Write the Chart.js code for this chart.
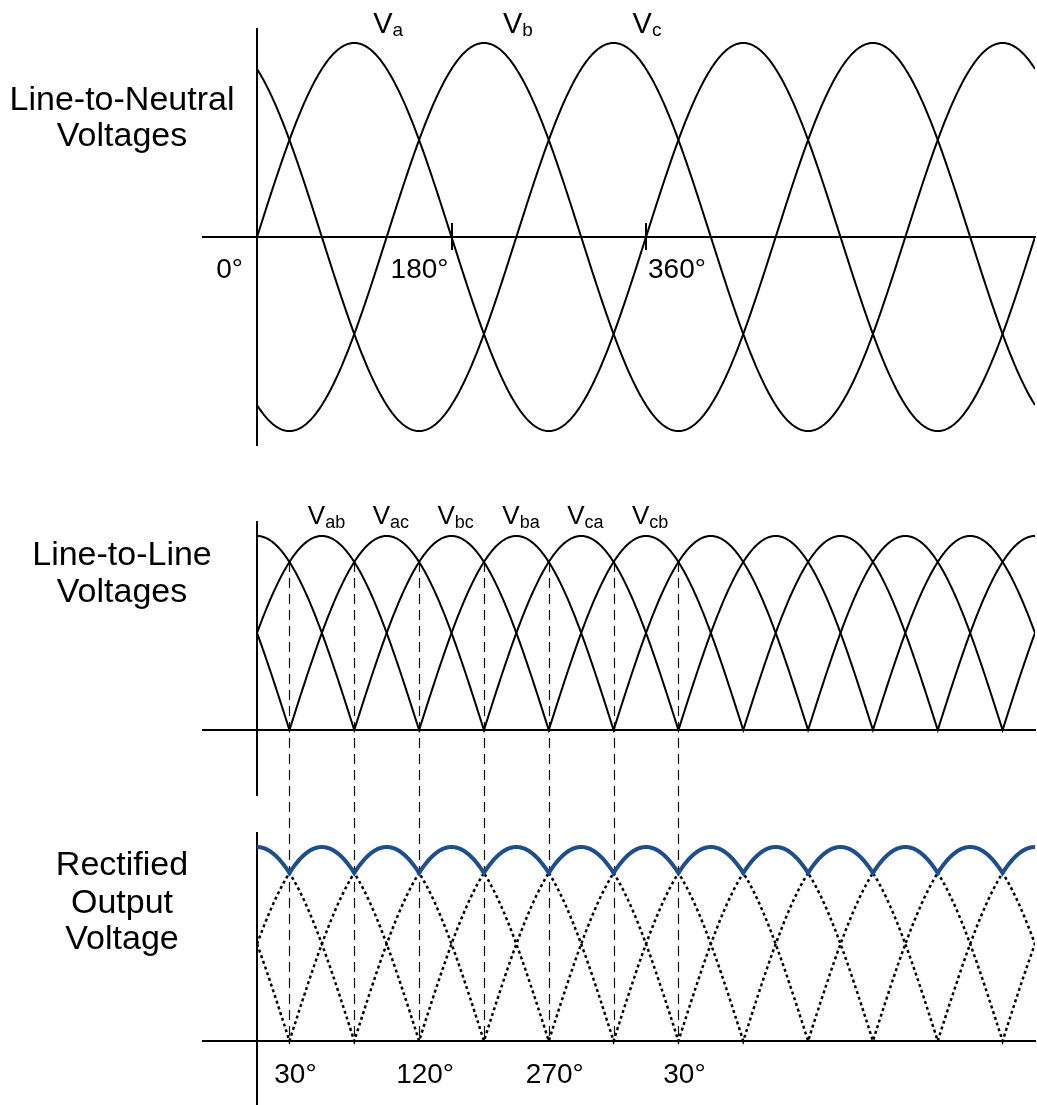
<!DOCTYPE html>
<html>

<head>
  <meta charset="UTF-8">
  <title>Three-phase rectifier waveforms</title>
  <style>
    body {
      margin: 0;
      background: #fff;
    }

    .panel {
      position: absolute;
      left: 0;
    }
  </style>
</head>

<script src="https://cdn.jsdelivr.net/npm/chart.js@4.4.0/dist/chart.umd.min.js"></script>

<body>

  <canvas id="lineNeutral" class="panel" width="1037" height="470" style="top:0px"></canvas>
  <canvas id="lineLine" class="panel" width="1037" height="340" style="top:470px"></canvas>
  <canvas id="rectified" class="panel" width="1037" height="295" style="top:810px"></canvas>

  <script>
    // angle range shown, degrees
    var angleStart = 0;
    var angleEnd = 720;

    // phase voltages: name, lag behind Va (deg), peak (per unit)
    var phaseNames = ["a", "b", "c"];
    var phaseLag = [0, 120, 240];
    var phasePeak = 1;

    // line-to-line pairs plotted as magnitudes
    var llPairs = [["a", "b"], ["b", "c"], ["c", "a"]];
    // line-to-line names written over the humps
    var llNames = ["ab", "ac", "bc", "ba", "ca", "cb"];

    // angle marks on the line-to-neutral axis
    var lnTickDeg = [0, 180, 360];
    var lnTickText = ["0°", "180°", "360°"];

    // diode commutation angles (dashed guides) and the output axis labels
    var commDeg = [30, 90, 150, 210, 270, 330, 390];
    var outTickDeg = [30, 150, 270, 390];
    var outTickText = ["30°", "120°", "270°", "30°"];

    var titleLN = ["Line-to-Neutral", "Voltages"];
    var titleLL = ["Line-to-Line", "Voltages"];
    var titleOut = ["Rectified", "Output", "Voltage"];

    //---------------------------------------------------------------------------------------------

    var FONT = '"Liberation Sans", Arial, sans-serif';
    var dashGuide = [10, 6];

    var angles = [];
    for (var d = angleStart; d <= angleEnd; d++) angles.push(d);

    var phase = {};
    phaseNames.forEach(function (n, i) {
      phase[n] = angles.map(function (deg) {
        return phasePeak * Math.sin((deg - phaseLag[i]) * Math.PI / 180);
      });
    });

    function lineToLine(p, q) {
      return phase[p].map(function (v, i) { return v - phase[q][i]; });
    }

    var llMag = llPairs.map(function (pq) {
      return lineToLine(pq[0], pq[1]).map(Math.abs);
    });

    // bridge output follows the largest line-to-line magnitude
    var rectified = angles.map(function (deg, i) {
      return Math.max.apply(null, llMag.map(function (m) { return m[i]; }));
    });

    function toXY(series) {
      return series.map(function (v, i) { return { x: angles[i], y: v }; });
    }

    // angle of the first peak in (0, 360]
    function peakAngle(series) {
      var best = 1;
      for (var i = 1; i <= 360; i++) {
        if (series[i] > series[best] + 1e-9) best = i;
      }
      return angles[best];
    }

    function valueAt(series, deg) {
      return series[angles.indexOf(deg)];
    }

    function text(ctx, str, x, y, size, align) {
      ctx.font = size + "px " + FONT;
      ctx.textAlign = align || "left";
      ctx.textBaseline = "alphabetic";
      ctx.fillStyle = "#000";
      ctx.fillText(str, x, y);
    }

    function vLabel(ctx, sub, x, y, size, subSize, subDrop) {
      text(ctx, "V", x, y, size);
      var w = ctx.measureText("V").width;
      text(ctx, sub, x + w, y + subDrop, subSize);
    }

    function title(ctx, lines, baselines) {
      lines.forEach(function (s, i) { text(ctx, s, 122, baselines[i], 34, "center"); });
    }

    function panelOptions(yMin, yMax, pad) {
      return {
        responsive: false,
        animation: false,
        events: [],
        layout: { padding: pad },
        plugins: { legend: { display: false }, tooltip: { enabled: false } },
        elements: {
          point: { radius: 0 },
          line: { tension: 0, borderColor: "#000", borderWidth: 2, fill: false }
        },
        scales: {
          x: {
            type: "linear", min: -50, max: angleEnd, position: { y: 0 },
            ticks: { display: false }, grid: { display: false },
            border: { color: "#000", width: 2 }
          },
          y: {
            type: "linear", min: yMin, max: yMax, position: { x: 0 },
            ticks: { display: false }, grid: { display: false },
            border: { color: "#000", width: 2 }
          }
        }
      };
    }

    //---------------------------------------------------------------------------------------------
    // line-to-neutral

    var lnDecor = {
      id: "lnDecor",
      afterDatasetsDraw: function (chart) {
        var ctx = chart.ctx, xs = chart.scales.x, ys = chart.scales.y;
        var y0 = ys.getPixelForValue(0);
        ctx.save();
        ctx.strokeStyle = "#000";
        ctx.lineWidth = 2;
        lnTickDeg.forEach(function (deg) {
          if (deg === 0) return;
          var x = Math.round(xs.getPixelForValue(deg));
          ctx.beginPath();
          ctx.moveTo(x, y0 - 14);
          ctx.lineTo(x, y0 + 13);
          ctx.stroke();
        });
        var tickPlace = [[-14, "right"], [-3, "right"], [2, "left"]];
        lnTickText.forEach(function (s, i) {
          text(ctx, s, xs.getPixelForValue(lnTickDeg[i]) + tickPlace[i][0], y0 + 41, 28, tickPlace[i][1]);
        });
        phaseNames.forEach(function (n) {
          vLabel(ctx, n, xs.getPixelForValue(peakAngle(phase[n])) + 19, 33, 29, 19, 3);
        });
        title(ctx, titleLN, [110, 146]);
        ctx.restore();
      }
    };

    new Chart("lineNeutral", {
      type: "line",
      data: {
        datasets: phaseNames.map(function (n) {
          return { label: "V" + n, data: toXY(phase[n]) };
        })
      },
      options: panelOptions(-1.072, 1.072, { left: 203, right: 2, top: 29, bottom: 25 }),
      plugins: [lnDecor]
    });

    //---------------------------------------------------------------------------------------------
    // line-to-line

    var llScale = Math.sqrt(3) / 194;
    var guideRun = 0;

    var llDecor = {
      id: "llDecor",
      beforeDatasetsDraw: function (chart) {
        var ctx = chart.ctx, xs = chart.scales.x, ys = chart.scales.y;
        ctx.save();
        ctx.strokeStyle = "#111";
        ctx.lineWidth = 1.2;
        ctx.setLineDash(dashGuide);
        commDeg.forEach(function (deg) {
          var x = Math.round(xs.getPixelForValue(deg)) + 0.5;
          var yTop = ys.getPixelForValue(valueAt(rectified, deg));
          guideRun = chart.height - yTop;
          ctx.beginPath();
          ctx.moveTo(x, yTop);
          ctx.lineTo(x, chart.height);
          ctx.stroke();
        });
        ctx.restore();
      },
      afterDatasetsDraw: function (chart) {
        var ctx = chart.ctx, xs = chart.scales.x;
        ctx.save();
        llNames.forEach(function (n) {
          var peak = peakAngle(lineToLine(n[0], n[1]));
          vLabel(ctx, n, xs.getPixelForValue(peak) - 14, 54, 26, 18, 4);
        });
        title(ctx, titleLL, [95, 132]);
        ctx.restore();
      }
    };

    new Chart("lineLine", {
      type: "line",
      data: {
        datasets: llPairs.map(function (pq, i) {
          return { label: "|V" + pq[0] + pq[1] + "|", data: toXY(llMag[i]) };
        })
      },
      options: panelOptions(-65 * llScale, 208 * llScale, { left: 203, right: 2, top: 52, bottom: 15 }),
      plugins: [llDecor]
    });

    //---------------------------------------------------------------------------------------------
    // rectified output

    var outDecor = {
      id: "outDecor",
      beforeDatasetsDraw: function (chart) {
        var ctx = chart.ctx, xs = chart.scales.x, ys = chart.scales.y;
        var y0 = ys.getPixelForValue(0);
        ctx.save();
        ctx.strokeStyle = "#111";
        ctx.lineWidth = 1.2;
        ctx.setLineDash(dashGuide);
        ctx.lineDashOffset = guideRun;
        commDeg.forEach(function (deg) {
          var x = Math.round(xs.getPixelForValue(deg)) + 0.5;
          ctx.beginPath();
          ctx.moveTo(x, 0);
          ctx.lineTo(x, y0);
          ctx.stroke();
        });
        ctx.restore();
      },
      afterDatasetsDraw: function (chart) {
        var ctx = chart.ctx, xs = chart.scales.x, ys = chart.scales.y;
        var y0 = ys.getPixelForValue(0);
        ctx.save();
        outTickText.forEach(function (s, i) {
          text(ctx, s, xs.getPixelForValue(outTickDeg[i]) + 6, y0 + 42, 28, "center");
        });
        title(ctx, titleOut, [65, 103, 139]);
        ctx.restore();
      }
    };

    var outSets = [{
      label: "Vout",
      data: toXY(rectified),
      borderColor: "#1f4e8c",
      borderWidth: 4
    }];
    llPairs.forEach(function (pq, i) {
      outSets.push({
        label: "|V" + pq[0] + pq[1] + "|",
        data: toXY(llMag[i]),
        borderDash: [3, 3],
        borderWidth: 2.5
      });
    });

    new Chart("rectified", {
      type: "line",
      data: { datasets: outSets },
      options: panelOptions(-64 * llScale, 208 * llScale, { left: 203, right: 2, top: 23, bottom: 0 }),
      plugins: [outDecor]
    });
  </script>

</body>

</html>
